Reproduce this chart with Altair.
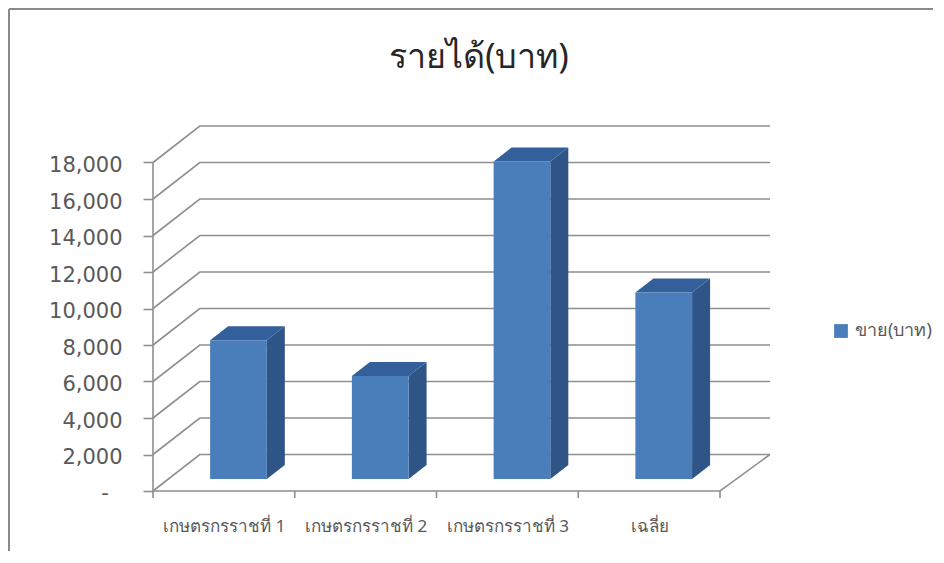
import altair as alt
import pandas as pd

TITLE = "รายได้(บาท)"
SERIES = "ขาย(บาท)"
CATEGORIES = ["เกษตรกรราชที่ 1", "เกษตรกรราชที่ 2", "เกษตรกรราชที่ 3", "เฉลี่ย"]
VALUES = [7600, 5650, 17400, 10217]
Y_TICKS = [0, 2000, 4000, 6000, 8000, 10000, 12000, 14000, 16000, 18000]
X_TICKS = [0, 1, 2, 3, 4]
ZERO_LABEL = "-"

# scale geometry (category units on x, baht on y)
X_END = 4.3527
Y_END = 20000
WALL_DX = 0.33
WALL_DY = 2000
BAR_SHIFT = 0.103
BAR_LIFT = 657
BAR_HALF = 0.2
BAR_DX = 0.127
BAR_DY = 767

GRID = "#8f8f8f"
FRONT = "#4a7ebb"
SIDE = "#2f5486"
TOP = "#33609a"
TEXT = "#595959"
FONT = "Noto Sans, DejaVu Sans, sans-serif"

xs = alt.Scale(domain=[0, X_END], nice=False, zero=False)
ys = alt.Scale(domain=[0, Y_END], nice=False, zero=False)

wall = []
for t in Y_TICKS:
    wall += [
        {"k": t, "x": 0, "y": t},
        {"k": t, "x": WALL_DX, "y": t + WALL_DY},
        {"k": t, "x": X_END, "y": t + WALL_DY},
    ]
wall += [
    {"k": -1, "x": 0, "y": 0},
    {"k": -1, "x": 4, "y": 0},
    {"k": -1, "x": X_END, "y": WALL_DY},
]
wall_df = pd.DataFrame(wall)

front, side, top = [], [], []
for i, v in enumerate(VALUES):
    c = i + 0.5 + BAR_SHIFT
    l, r = c - BAR_HALF, c + BAR_HALF
    b, h = BAR_LIFT, BAR_LIFT + v
    front.append({"series": SERIES, "l": l, "r": r, "b": b, "t": h})
    side += [
        {"i": i, "x": r, "y": h, "y2": b},
        {"i": i, "x": r + BAR_DX, "y": h + BAR_DY, "y2": b + BAR_DY},
    ]
    top += [
        {"i": i, "x": l, "y": h, "y2": h},
        {"i": i, "x": l + BAR_DX, "y": h + BAR_DY, "y2": h},
        {"i": i, "x": r, "y": h + BAR_DY, "y2": h},
        {"i": i, "x": r + BAR_DX, "y": h + BAR_DY, "y2": h + BAR_DY},
    ]

label_js = "[" + ",".join(f"'{c}'" for c in CATEGORIES) + "][datum.value-0.5]"

x_axis = alt.Axis(
    values=[i + 0.5 for i in range(len(CATEGORIES))], labelExpr=label_js, title=None,
    grid=False, domain=False, ticks=False, labelPadding=35, labelBaseline="middle",
    labelFontSize=17, labelColor=TEXT, labelFont=FONT, labelOverlap=False, labelFlush=False,
)
y_axis = alt.Axis(
    values=Y_TICKS, title=None, grid=False, domain=False, tickSize=10, tickColor=GRID, tickWidth=1.6,
    labelPadding=21, labelFontSize=21, labelColor=TEXT, labelFont="DejaVu Sans", labelOffset=3,
    labelExpr="datum.value === 0 ? '' : format(datum.value, ',')",
)
X = lambda f: alt.X(f, scale=xs, axis=x_axis)
Y = lambda f: alt.Y(f, scale=ys, axis=y_axis)

lines = alt.Chart(wall_df).mark_line(color=GRID, strokeWidth=1.6).encode(
    x=X("x:Q"), y=Y("y:Q"), detail="k:N",
)
y_line = alt.Chart(pd.DataFrame({"x": [0], "y": [0], "y2": [Y_TICKS[-1]]})).mark_rule(
    color=GRID, strokeWidth=1.6
).encode(x=X("x:Q"), y=Y("y:Q"), y2="y2:Q")

xticks = alt.Chart(pd.DataFrame({"x": X_TICKS})).mark_rule(color=GRID, strokeWidth=1.6).encode(
    x=X("x:Q"), y=alt.value(365), y2=alt.value(372),
)

zero_label = alt.Chart(pd.DataFrame({"x": [0], "y": [0], "t": [ZERO_LABEL]})).mark_text(
    fontSize=21, color=TEXT, font="DejaVu Sans", align="center", baseline="middle", dx=-48, dy=3
).encode(x=X("x:Q"), y=Y("y:Q"), text="t:N")

sides = alt.Chart(pd.DataFrame(side)).mark_area(color=SIDE).encode(
    x=X("x:Q"), y=Y("y:Q"), y2="y2:Q", detail="i:N",
)
tops = alt.Chart(pd.DataFrame(top)).mark_area(color=TOP).encode(
    x=X("x:Q"), y=Y("y:Q"), y2="y2:Q", detail="i:N",
)
fronts = alt.Chart(pd.DataFrame(front)).mark_rect().encode(
    x=X("l:Q"), x2="r:Q", y=Y("b:Q"), y2="t:Q",
    color=alt.Color(
        "series:N",
        scale=alt.Scale(domain=[SERIES], range=[FRONT]),
        legend=alt.Legend(
            title=None, orient="none", legendX=679, legendY=196, symbolType="square",
            symbolSize=190, symbolStrokeWidth=0, labelFontSize=18, labelOffset=5,
            labelColor=TEXT, labelFont=FONT,
        ),
    ),
)

title = alt.Chart(pd.DataFrame({"t": [TITLE]})).mark_text(
    fontSize=34, color="#262626", font=FONT, align="center", baseline="middle"
).encode(text="t:N", x=alt.value(326), y=alt.value(-68))

frame_top = alt.Chart(pd.DataFrame({"a": [0]})).mark_rule(color="#8a8a8a", strokeWidth=2).encode(
    x=alt.value(-144), x2=alt.value(780), y=alt.value(-117)
)
frame_left = alt.Chart(pd.DataFrame({"a": [0]})).mark_rule(color="#8a8a8a", strokeWidth=2).encode(
    x=alt.value(-144), y=alt.value(-117), y2=alt.value(425)
)

chart = (
    alt.layer(lines, y_line, xticks, zero_label, sides, tops, fronts, title, frame_top, frame_left)
    .properties(
        width=617,
        height=365,
        padding={"left": 145, "top": 118, "right": 166, "bottom": 60},
        autosize=alt.AutoSizeParams(type="none"),
    )
    .configure_view(stroke=None)
)

chart.save("out.html", embed_options={"renderer": "svg", "actions": False})
